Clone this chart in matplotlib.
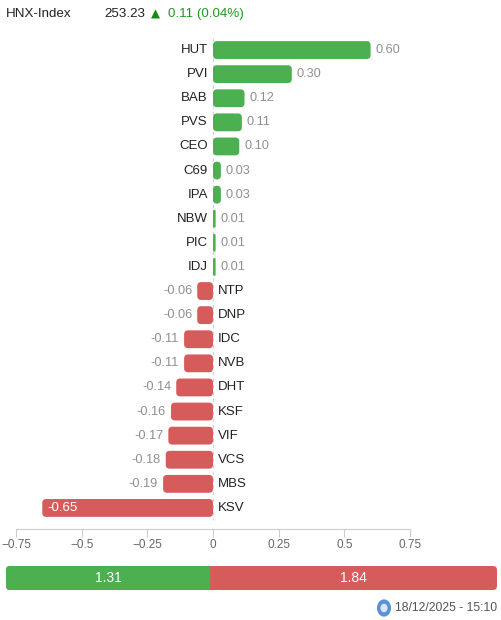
import matplotlib
matplotlib.use("Agg")
import matplotlib.pyplot as plt
from matplotlib.patches import FancyBboxPatch, Circle

plt.rcParams['font.family'] = ['Liberation Sans', 'DejaVu Sans']

# data
tickers = ["HUT", "PVI", "BAB", "PVS", "CEO", "C69", "IPA", "NBW", "PIC", "IDJ",
           "NTP", "DNP", "IDC", "NVB", "DHT", "KSF", "VIF", "VCS", "MBS", "KSV"]
impact = [0.60, 0.30, 0.12, 0.11, 0.10, 0.03, 0.03, 0.01, 0.01, 0.01,
          -0.06, -0.06, -0.11, -0.11, -0.14, -0.16, -0.17, -0.18, -0.19, -0.65]
xticks = [-0.75, -0.5, -0.25, 0, 0.25, 0.5, 0.75]
xtick_labels = ["\u22120.75", "\u22120.5", "\u22120.25", "0", "0.25", "0.5", "0.75"]
pos_total = 1.31
neg_total = 1.84
index_name = "HNX-Index"
index_value = "253.23"
index_change = "0.11 (0.04%)"
timestamp = "18/12/2025 - 15:10"

green = "#4caf50"
red = "#d65b5b"

W, H = 502, 620
fig = plt.figure(figsize=(W / 100, H / 100), dpi=100)

def fx(px):
    return px / W

def fy(py):
    return 1 - py / H

# header
fig.text(fx(6), fy(14), index_name, fontsize=9.6, color="#222222", va="center")
fig.text(fx(104), fy(14), index_value, fontsize=9.6, color="#222222", va="center")
fig.text(fx(151), fy(14), "\u25b2", fontsize=8.5, color="#138a13", va="center",
         family=["DejaVu Sans"])
fig.text(fx(168), fy(14), index_change, fontsize=9.6, color="#1f9a1f", va="center")

# main chart axes
top_px, bot_px = 38, 529
left_px, right_px = 16, 410
ax = fig.add_axes([fx(left_px), fy(bot_px), fx(right_px - left_px), (bot_px - top_px) / H])
n = len(tickers)
row_px = 24.1
y_top = -0.5
y_bot = y_top + (bot_px - top_px) / row_px
ax.set_xlim(-0.75, 0.75)
ax.set_ylim(y_bot, y_top)

xu = 1.5 / (right_px - left_px)      # data units per pixel (x)
yu = 1 / row_px                       # data units per pixel (y)
aspect = yu / xu
bh = 0.74
pad = 5 * xu

for i, (t, v) in enumerate(zip(tickers, impact)):
    col = green if v > 0 else red
    x0 = min(0, v)
    w = abs(v)
    r = min(4 * xu, w / 2)
    ax.add_patch(FancyBboxPatch((x0, i - bh / 2), w, bh,
                                boxstyle=f"round,pad=0,rounding_size={r}",
                                mutation_aspect=aspect, fc=col, ec="none", zorder=3))
    if v > 0:
        ax.text(-pad, i, t, ha="right", va="center", fontsize=9.5, color="#222222")
        ax.text(v + pad, i, f"{v:.2f}", ha="left", va="center", fontsize=9.2, color="#8f8f8f")
    else:
        ax.text(pad, i, t, ha="left", va="center", fontsize=9.5, color="#222222")
        if v < -0.5:
            ax.text(v + pad, i, f"{v:.2f}", ha="left", va="center", fontsize=9.5, color="white")
        else:
            ax.text(v - pad, i, f"{v:.2f}", ha="right", va="center", fontsize=9.2, color="#8f8f8f")

ax.plot([0, 0], [y_top, n - 0.5], ls=(0, (3, 3)), lw=0.8, color="#d0d0d0", zorder=1)

for s in ["top", "right", "left"]:
    ax.spines[s].set_visible(False)
ax.spines["bottom"].set_color("#cccccc")
ax.set_yticks([])
ax.set_xticks(xticks)
ax.set_xticklabels(xtick_labels)
ax.tick_params(axis="x", colors="#cccccc", labelcolor="#666666", labelsize=8.5,
               length=6, width=0.8, pad=1.5)

# bottom total bar
bax = fig.add_axes([fx(6), fy(590), fx(497 - 6), 24 / H])
total = pos_total + neg_total
bax.set_xlim(0, total)
bax.set_ylim(0, 1)
bax.axis("off")
bw_px = 497 - 6
bxu = total / bw_px
baspect = (1 / 24) / bxu
rr = 4 * bxu
bax.add_patch(FancyBboxPatch((0, 0), total, 1, boxstyle=f"round,pad=0,rounding_size={rr}",
                             mutation_aspect=baspect, fc=red, ec="none"))
bax.add_patch(FancyBboxPatch((0, 0), pos_total, 1, boxstyle=f"round,pad=0,rounding_size={rr}",
                             mutation_aspect=baspect, fc=green, ec="none"))
bax.barh(0.5, pos_total / 2, left=pos_total / 2, height=1, color=green)
bax.text(pos_total / 2, 0.5, f"{pos_total:.2f}", ha="center", va="center",
         fontsize=10, color="white")
bax.text(pos_total + neg_total / 2, 0.5, f"{neg_total:.2f}", ha="center", va="center",
         fontsize=10, color="white")

# footer
fig.text(fx(497), fy(608), timestamp, ha="right", va="center", fontsize=8.8, color="#555555")
icon = Circle((fx(384), fy(608)), 7 / W, transform=fig.transFigure, fc="#5b8fd6", ec="none")
fig.add_artist(icon)
icon2 = Circle((fx(384), fy(608)), 3.5 / W, transform=fig.transFigure, fc="#dce8f7", ec="none")
fig.add_artist(icon2)

fig.savefig("out.png", dpi=100, facecolor="white")
